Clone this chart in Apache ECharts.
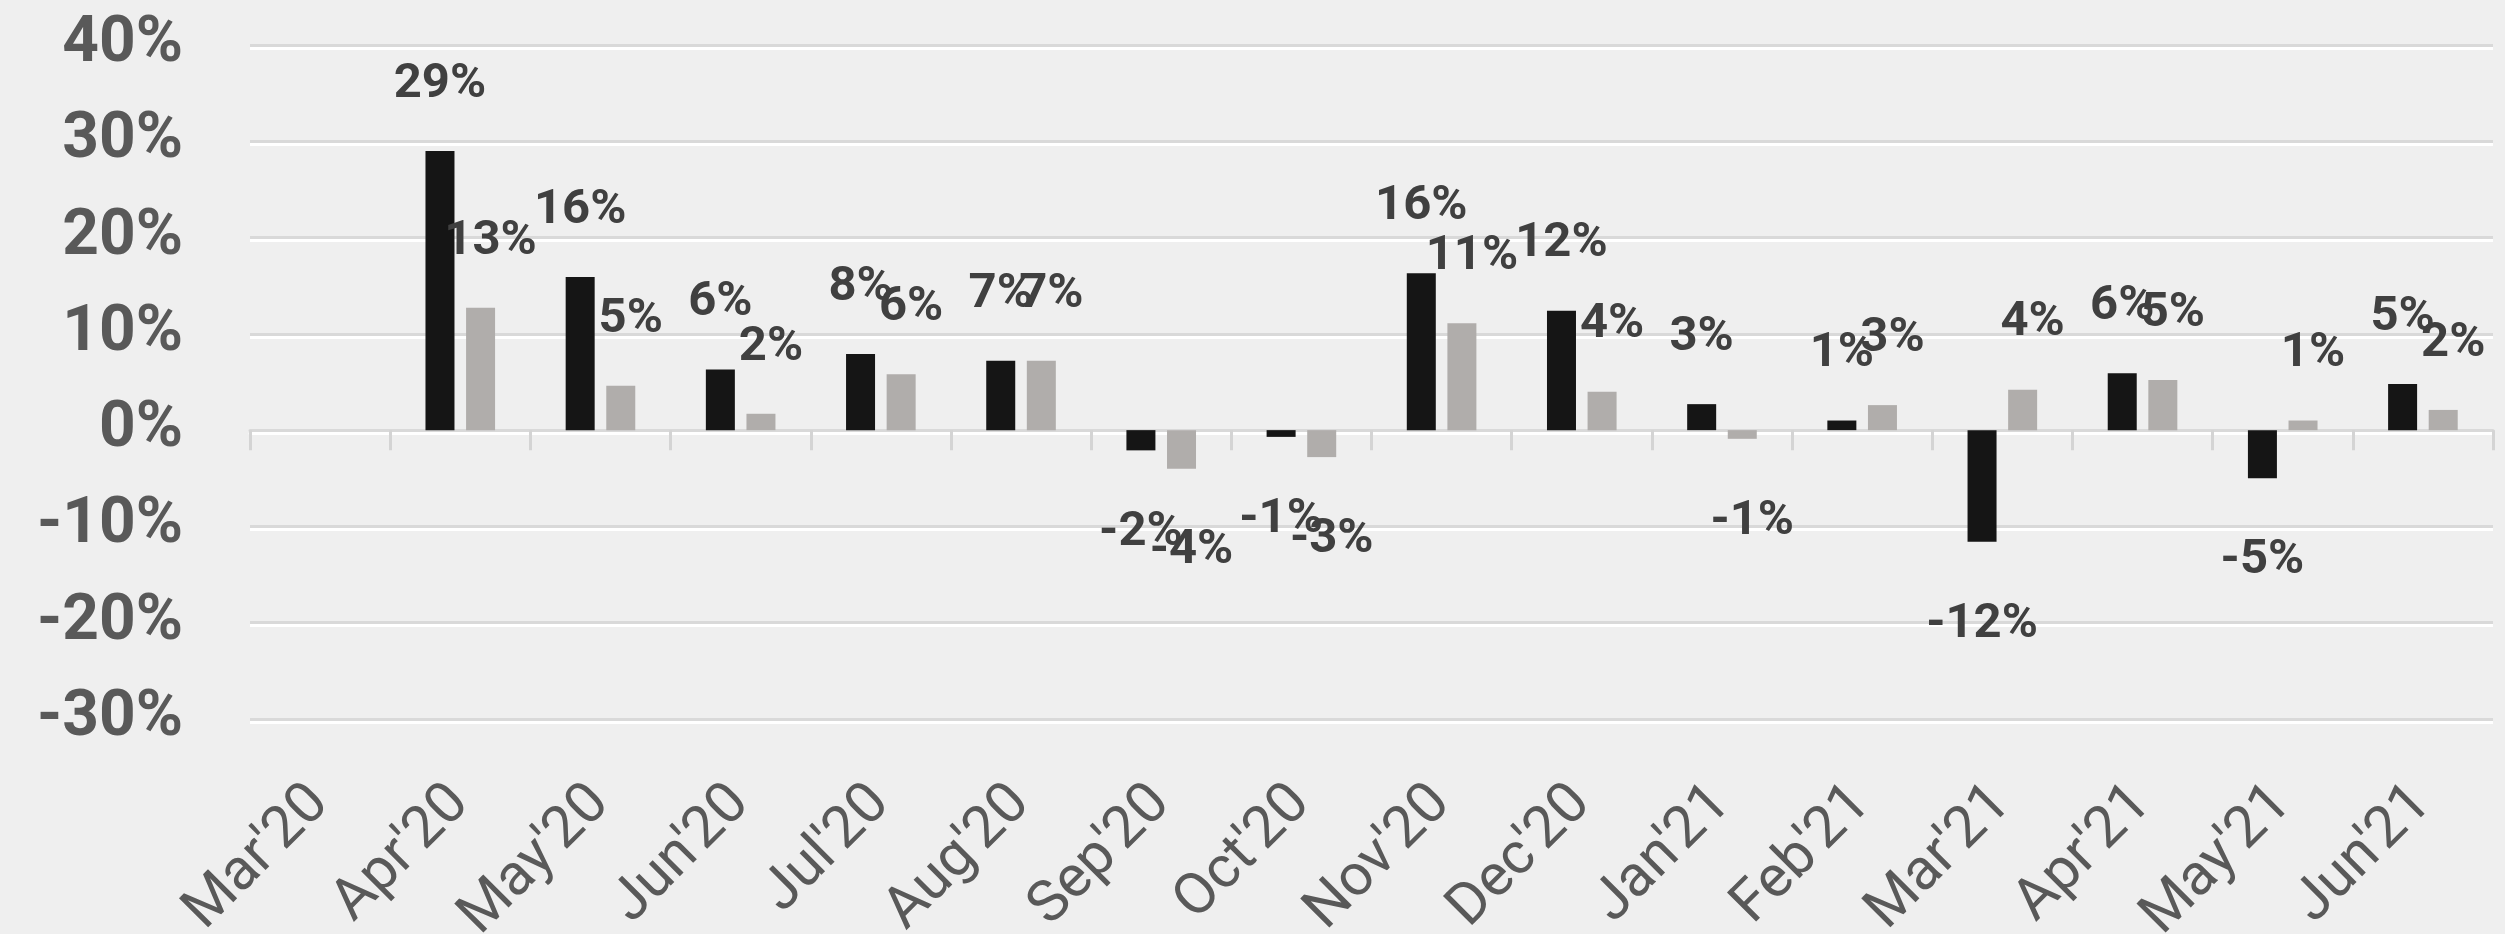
<!DOCTYPE html>
<html>
<head>
<meta charset="utf-8">
<script src="https://cdn.jsdelivr.net/npm/echarts@6/dist/echarts.min.js"></script>
<style>
    html, body { margin: 0; padding: 0; background: #efefef; }
    #chart { width: 2505px; height: 934px; }
</style>
</head>
<body>
<div id="chart"></div>
<script>
// month labels along the x axis
const months = ["Mar'20", "Apr'20", "May'20", "Jun'20", "Jul'20", "Aug'20", "Sep'20", "Oct'20",
    "Nov'20", "Dec'20", "Jan'21", "Feb'21", "Mar'21", "Apr'21", "May'21", "Jun'21"]

// month-on-month change, %
const darkSeries = [null, 29.0, 15.9, 6.3, 7.9, 7.2, -2.1, -0.7, 16.3, 12.4, 2.7, 1.0, -11.6, 5.9, -5.0, 4.8]
const greySeries = [null, 12.7, 4.6, 1.7, 5.8, 7.2, -4.0, -2.8, 11.1, 4.0, -0.9, 2.6, 4.2, 5.2, 1.0, 2.1]

// y axis ticks
const yMin = -30
const yMax = 40
const yStep = 10

const gridLine = {
    color: '#d9d9d9',
    width: 3,
    shadowColor: '#ffffff',
    shadowOffsetY: 3,
}

function pctLabel(p) {
    if (p.value == null) return ''
    return Number(p.value).toFixed(0) + '%'
}

function barLabel(offsetX) {
    return {
        show: true,
        position: 'outside',
        distance: 42,
        offset: [offsetX, 0],
        formatter: pctLabel,
        color: '#404040',
        fontFamily: 'Roboto',
        fontWeight: 'bold',
        fontSize: 49,
    }
}

// negative bars get their label a bit further off, as in the original
function barItems(values) {
    return values.map(v => ({
        value: v,
        label: { distance: v < 0 ? 58 : 42 },
    }))
}

const chart = echarts.init(document.getElementById('chart'), null, { renderer: 'canvas' })
chart.setOption({
    backgroundColor: '#efefef',
    animation: false,
    grid: {
        left: 250,
        right: 12,
        top: 45,
        bottom: 215,
        outerBoundsMode: 'none',
    },
    xAxis: [{
        // zero line with its ticks
        type: 'category',
        data: months,
        position: 'bottom',
        axisLine: { show: true, onZero: true, lineStyle: gridLine },
        axisTick: { show: true, length: 20, lineStyle: { color: '#d4d4d4', width: 3 } },
        axisLabel: { show: false },
        splitLine: { show: false },
    }, {
        // month labels below the plot
        type: 'category',
        data: months,
        position: 'bottom',
        axisLine: { show: false, onZero: false },
        axisTick: { show: false },
        axisLabel: {
            rotate: 45,
            margin: 76,
            interval: 0,
            color: '#595959',
            fontFamily: 'Roboto',
            fontSize: 58,
        },
        splitLine: { show: false },
    }],
    yAxis: {
        type: 'value',
        min: yMin,
        max: yMax,
        interval: yStep,
        axisLine: { show: false },
        axisTick: { show: false },
        axisLabel: {
            formatter: '{value}%',
            margin: 67,
            color: '#595959',
            fontFamily: 'Roboto',
            fontWeight: 'bold',
            fontSize: 64,
        },
        splitLine: { show: true, lineStyle: gridLine },
    },
    series: [{
        type: 'bar',
        xAxisIndex: 0,
        data: barItems(darkSeries),
        barWidth: 29,
        barGap: '40%',
        itemStyle: { color: '#151515' },
        label: barLabel(0),
    }, {
        type: 'bar',
        xAxisIndex: 0,
        data: barItems(greySeries),
        barWidth: 29,
        barGap: '40%',
        itemStyle: { color: '#b0adab' },
        label: barLabel(10),
    }]
})

window.addEventListener('resize', () => {
    if (chart) chart.resize()
})
</script>
</body>
</html>
